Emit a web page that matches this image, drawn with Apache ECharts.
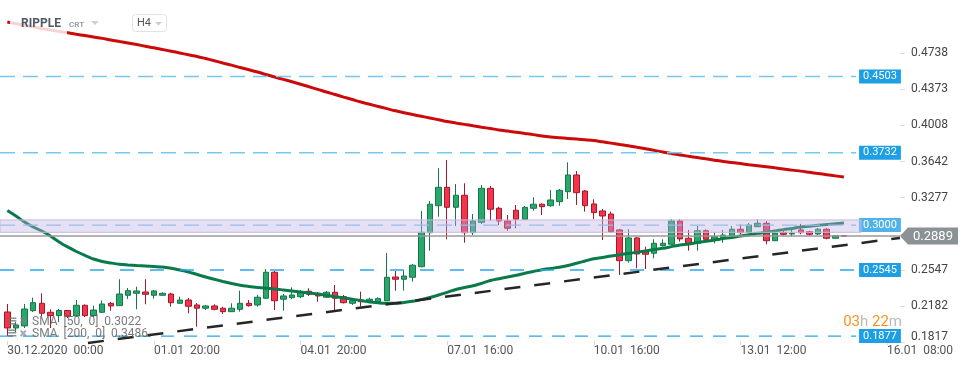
<!DOCTYPE html>
<html><head><meta charset="utf-8">
<script src="https://cdn.jsdelivr.net/npm/echarts@6/dist/echarts.min.js"></script>
<style>html,body{margin:0;padding:0;background:#fff}#c{width:970px;height:368px}</style>
</head><body><div id="c"></div>
<script>
// ---------- data ----------
const xTickLabels = ['30.12.2020  00:00','01.01  20:00','04.01  20:00','07.01  16:00','10.01  16:00','13.01  12:00','16.01  08:00'];
const tickEvery = 17;
const slotCount = 104;
const yTicks = [0.1817,0.2182,0.2547,0.2912,0.3277,0.3642,0.4008,0.4373,0.4738];

const open = [0.2121,0.1959,0.1980,0.2134,0.2209,0.2118,0.2084,0.2136,0.2081,0.2189,
0.2084,0.2118,0.2209,0.2185,0.2290,0.2310,0.2323,0.2290,0.2290,0.2303,
0.2209,0.2242,0.2192,0.2159,0.2182,0.2159,0.2124,0.2148,0.2209,0.2192,
0.2260,0.2523,0.2250,0.2266,0.2276,0.2331,0.2310,0.2270,0.2320,0.2276,
0.2209,0.2242,0.2232,0.2225,0.2235,0.2475,0.2452,0.2472,0.2579,0.2923,
0.3196,0.3382,0.3180,0.3302,0.2923,0.3028,0.3372,0.3170,0.3042,0.3150,
0.3059,0.3170,0.3211,0.3196,0.3237,0.3338,0.3507,0.3345,0.3214,0.3143,
0.3112,0.2951,0.2640,0.2870,0.2731,0.2715,0.2792,0.2806,0.3042,0.2867,
0.2816,0.2943,0.2856,0.2873,0.2890,0.2958,0.2927,0.2984,0.3018,0.2842,
0.2923,0.2910,0.2951,0.2933,0.2910,0.2958,0.2867,0.2893];
const close = [0.1959,0.1990,0.2151,0.2215,0.2108,0.2084,0.2136,0.2078,0.2189,0.2084,
0.2141,0.2202,0.2182,0.2303,0.2337,0.2334,0.2300,0.2334,0.2310,0.2215,
0.2242,0.2179,0.2159,0.2182,0.2148,0.2124,0.2159,0.2209,0.2185,0.2270,
0.2523,0.2235,0.2283,0.2293,0.2327,0.2300,0.2283,0.2320,0.2260,0.2215,
0.2235,0.2225,0.2250,0.2256,0.2472,0.2452,0.2485,0.2594,0.2927,0.3211,
0.3382,0.3180,0.3302,0.2923,0.3042,0.3372,0.3160,0.3042,0.2968,0.3059,
0.3180,0.3211,0.3186,0.3254,0.3352,0.3507,0.3328,0.3196,0.3126,0.3092,
0.2933,0.2640,0.2870,0.2708,0.2705,0.2816,0.2816,0.3042,0.2860,0.2816,
0.2943,0.2856,0.2883,0.2900,0.2958,0.2923,0.3001,0.3018,0.2842,0.2917,
0.2907,0.2917,0.2923,0.2907,0.2958,0.2867,0.2893,0.2889];
const low = [0.1878,0.1919,0.1959,0.2121,0.2074,0.1959,0.2020,0.2060,0.2070,0.2070,
0.2070,0.2111,0.2134,0.2182,0.2253,0.2148,0.2199,0.2256,0.2283,0.2175,
0.2202,0.2108,0.1972,0.2141,0.2138,0.2101,0.2121,0.2124,0.2175,0.2175,
0.2253,0.2141,0.2134,0.2250,0.2260,0.2283,0.2225,0.2263,0.2141,0.2207,
0.2192,0.2175,0.2222,0.2217,0.2232,0.2337,0.2337,0.2428,0.2573,0.2741,
0.3085,0.2856,0.2991,0.2822,0.2900,0.3011,0.3042,0.3001,0.2943,0.2968,
0.3052,0.3146,0.3102,0.3186,0.3196,0.3264,0.3203,0.3136,0.3062,0.2849,
0.2920,0.2495,0.2620,0.2563,0.2556,0.2664,0.2782,0.2799,0.2832,0.2741,
0.2741,0.2839,0.2816,0.2822,0.2880,0.2907,0.2920,0.2981,0.2806,0.2839,
0.2893,0.2883,0.2907,0.2893,0.2900,0.2856,0.2865,0.2880];
const high = [0.2202,0.2020,0.2202,0.2266,0.2310,0.2148,0.2151,0.2141,0.2242,0.2197,
0.2185,0.2239,0.2222,0.2452,0.2364,0.2377,0.2452,0.2344,0.2320,0.2316,
0.2276,0.2263,0.2212,0.2192,0.2199,0.2172,0.2209,0.2337,0.2242,0.2293,
0.2556,0.2536,0.2303,0.2371,0.2344,0.2361,0.2323,0.2334,0.2394,0.2293,
0.2253,0.2327,0.2266,0.2270,0.2718,0.2536,0.2546,0.2607,0.3143,0.3244,
0.3575,0.3659,0.3416,0.3423,0.3112,0.3406,0.3396,0.3186,0.3102,0.3203,
0.3193,0.3281,0.3221,0.3355,0.3365,0.3635,0.3547,0.3355,0.3261,0.3163,
0.3136,0.2961,0.2958,0.2880,0.2782,0.2856,0.2856,0.3062,0.3059,0.2951,
0.2991,0.2958,0.2927,0.2951,0.2991,0.3008,0.3021,0.3059,0.3042,0.2930,
0.2943,0.2951,0.3012,0.2943,0.2971,0.2971,0.2900,0.2895];

const sma50 = [0.3148,0.3092,0.3031,0.2981,0.2940,0.2890,0.2829,0.2779,0.2733,0.2693,
0.2657,0.2632,0.2617,0.2604,0.2597,0.2591,0.2586,0.2581,0.2576,0.2563,
0.2546,0.2526,0.2500,0.2475,0.2452,0.2430,0.2409,0.2391,0.2379,0.2369,
0.2361,0.2354,0.2344,0.2334,0.2323,0.2313,0.2303,0.2290,0.2276,0.2263,
0.2250,0.2237,0.2222,0.2214,0.2209,0.2209,0.2217,0.2229,0.2246,0.2268,
0.2293,0.2320,0.2349,0.2369,0.2386,0.2411,0.2439,0.2458,0.2475,0.2492,
0.2513,0.2531,0.2549,0.2561,0.2573,0.2591,0.2614,0.2637,0.2659,0.2672,
0.2688,0.2700,0.2713,0.2725,0.2738,0.2753,0.2765,0.2782,0.2799,0.2809,
0.2824,0.2836,0.2849,0.2863,0.2875,0.2890,0.2903,0.2917,0.2928,0.2940,
0.2954,0.2966,0.2981,0.2989,0.2998,0.3006,0.3013,0.3022];
const sma200 = [0.5054,0.5038,0.5021,0.5005,0.4989,0.4974,0.4958,0.4945,0.4931,0.4917,
0.4903,0.4889,0.4872,0.4857,0.4842,0.4826,0.4810,0.4794,0.4776,0.4759,
0.4741,0.4723,0.4706,0.4685,0.4663,0.4640,0.4618,0.4594,0.4572,0.4549,
0.4523,0.4498,0.4474,0.4450,0.4425,0.4399,0.4373,0.4346,0.4321,0.4295,
0.4270,0.4245,0.4222,0.4200,0.4178,0.4156,0.4136,0.4118,0.4101,0.4083,
0.4066,0.4048,0.4033,0.4019,0.4004,0.3990,0.3977,0.3963,0.3951,0.3939,
0.3927,0.3915,0.3901,0.3891,0.3884,0.3877,0.3870,0.3863,0.3855,0.3842,
0.3829,0.3815,0.3802,0.3787,0.3772,0.3756,0.3739,0.3724,0.3709,0.3696,
0.3683,0.3670,0.3657,0.3644,0.3633,0.3622,0.3611,0.3601,0.3590,0.3579,
0.3568,0.3556,0.3546,0.3534,0.3522,0.3510,0.3498,0.3486];

const levels = [0.4503, 0.3732, 0.3000, 0.2545, 0.1877];
const bandTop = 0.3052, bandBottom = 0.2927;
const trendX = [9.35, 103.46];
const trendY = [0.1808, 0.2870];
const legendTexts = ['SMA  [50,  0]  0.3022', 'SMA  [200,  0]  0.3486'];

// ---------- chart ----------
const FONT = 'Roboto, "Noto Sans", sans-serif';
const Y_MIN = 0.1787, Y_MAX = 0.5277;
const X_MIN = -0.846, X_MAX = 103.46;
const LEVEL_END = 98.37, BAND_END = 98.94;
const levelColors = ['#74c8f2', '#74c8f2', '#86c6ee', '#27a8e8', '#27a8e8'];
const levelDash = [[15, 8], [15, 8], [15, 8], [14, 16], [13, 10]];
const boxColors = ['#1c9fe4', '#1c9fe4', '#4fb3ea', '#1c9fe4', '#1c9fe4'];
const lastPrice = close[close.length - 1];

const categories = Array.from({length: slotCount}, (_, i) => String(i));
const candleData = open.map((o, i) => [o, close[i], low[i], high[i]]);
const showTick = (idx) => idx % tickEvery === 0;

const chart = echarts.init(document.getElementById('c'), null, {renderer: 'canvas'});

const series = [
  {
    type: 'candlestick', xAxisIndex: 0, yAxisIndex: 0, data: candleData, barWidth: 6, z: 2,
    itemStyle: {color: '#27a96c', color0: '#f2354b', borderColor: '#17774a', borderColor0: '#a3182b', borderWidth: 1}
  },
  {
    type: 'line', xAxisIndex: 0, yAxisIndex: 0, data: sma200, symbol: 'none', smooth: 0.3, z: 3,
    lineStyle: {color: '#cc0a0a', width: 3}
  },
  {
    type: 'line', xAxisIndex: 0, yAxisIndex: 0, data: sma50, symbol: 'none', smooth: 0.3, z: 3,
    lineStyle: {color: '#0a7a4a', width: 3}
  }
];

levels.forEach((v, i) => {
  series.push({
    type: 'line', xAxisIndex: 1, yAxisIndex: 1, symbol: 'none', silent: true, z: 4,
    data: [[X_MIN, v], [LEVEL_END, v]],
    lineStyle: {color: levelColors[i], width: 1.4, type: levelDash[i]},
    endLabel: {
      show: true, formatter: () => v.toFixed(4), color: '#fff', backgroundColor: boxColors[i],
      padding: [2, 4, 1, 4], fontSize: 11, fontFamily: FONT, distance: 3
    }
  });
});

series.push({
  type: 'line', xAxisIndex: 1, yAxisIndex: 1, symbol: 'none', silent: true, z: 4,
  data: [[X_MIN, lastPrice], [X_MAX, lastPrice]],
  lineStyle: {color: '#999', width: 1.5}
});

series.push({
  type: 'custom', xAxisIndex: 1, yAxisIndex: 1, silent: true, z: 10,
  data: [[X_MIN, bandTop, BAND_END, bandBottom]],
  renderItem: (params, api) => {
    const p1 = api.coord([api.value(0), api.value(1)]);
    const p2 = api.coord([api.value(2), api.value(3)]);
    return {
      type: 'rect',
      shape: {x: p1[0], y: p1[1], width: p2[0] - p1[0], height: p2[1] - p1[1]},
      style: {fill: 'rgba(188,174,230,0.38)', stroke: '#c4b8e2', lineWidth: 1}
    };
  }
});

series.push({
  type: 'line', xAxisIndex: 1, yAxisIndex: 1, symbol: 'none', silent: true, z: 11,
  data: [[trendX[0], trendY[0]], [trendX[1], trendY[1]]],
  lineStyle: {color: '#262626', width: 2.5, type: [16, 14]}
});

chart.setOption({
  animation: false,
  backgroundColor: '#fff',
  grid: [
    {left: 3, top: 0, width: 897, height: 345},
    {left: 0, top: 0, width: 900, height: 345}
  ],
  xAxis: [
    {
      type: 'category', gridIndex: 0, data: categories, boundaryGap: true,
      axisLine: {show: false},
      axisTick: {show: true, inside: true, length: 4, alignWithLabel: true, interval: showTick, lineStyle: {color: '#d8d8d8'}},
      axisLabel: {
        interval: showTick, align: 'left', margin: 0, color: '#555', fontSize: 12, fontFamily: FONT,
        formatter: (val, idx) => xTickLabels[idx / tickEvery] || ''
      },
      splitLine: {show: false}
    },
    {type: 'value', gridIndex: 1, min: X_MIN, max: X_MAX, show: false}
  ],
  yAxis: [
    {
      type: 'value', gridIndex: 0, position: 'right', min: Y_MIN, max: Y_MAX,
      axisLine: {show: false}, splitLine: {show: false},
      axisTick: {show: true, length: 5, customValues: yTicks, lineStyle: {color: '#dddddd'}},
      axisLabel: {
        customValues: yTicks, margin: 11, color: '#444', fontSize: 12, fontFamily: FONT,
        formatter: (v) => v < 0.19 ? '{low|' + v.toFixed(4) + '}' : v.toFixed(4),
        rich: {low: {color: '#444', fontSize: 12, fontFamily: FONT, padding: [0, 0, 10, 0]}}
      }
    },
    {type: 'value', gridIndex: 1, min: Y_MIN, max: Y_MAX, show: false}
  ],
  series: series
});

const tagY = chart.convertToPixel({xAxisIndex: 1, yAxisIndex: 1}, [X_MAX, lastPrice])[1];

chart.setOption({
  graphic: [
    {type: 'rect', z: 100, shape: {x: 10, y: 12, width: 57, height: 24}, style: {fill: 'rgba(255,255,255,0.82)'}},
    {type: 'text', z: 101, x: 21, y: 24, style: {text: 'RIPPLE', font: 'bold 12px ' + FONT, fill: '#4e5964', verticalAlign: 'middle'}},
    {type: 'text', z: 101, x: 69, y: 24.5, style: {text: 'CRT', font: 'bold 8px ' + FONT, fill: '#9aa1a8', verticalAlign: 'middle'}},
    {type: 'polygon', z: 101, shape: {points: [[91, 21], [99, 21], [95, 25]]}, style: {fill: '#cfcfcf'}},
    {type: 'rect', z: 101, shape: {x: 132.5, y: 14.5, width: 34, height: 17, r: 3}, style: {fill: '#fff', stroke: '#e2e2e2', lineWidth: 1}},
    {type: 'text', z: 102, x: 137, y: 23.5, style: {text: 'H4', font: '11px ' + FONT, fill: '#555', verticalAlign: 'middle'}},
    {type: 'polygon', z: 102, shape: {points: [[155, 22], [162, 22], [158.5, 25.5]]}, style: {fill: '#cccccc'}},
    {type: 'text', z: 101, x: 7, y: 321.5, style: {text: '≡', font: 'bold 13px "DejaVu Sans"', fill: 'rgba(110,110,110,0.75)', verticalAlign: 'middle'}},
    {type: 'text', z: 101, x: 19, y: 321.5, style: {text: '✖', font: '10px "DejaVu Sans"', fill: 'rgba(130,130,130,0.65)', verticalAlign: 'middle'}},
    {type: 'text', z: 101, x: 7, y: 334, style: {text: '≡', font: 'bold 13px "DejaVu Sans"', fill: 'rgba(110,110,110,0.75)', verticalAlign: 'middle'}},
    {type: 'text', z: 101, x: 19, y: 334, style: {text: '✖', font: '10px "DejaVu Sans"', fill: 'rgba(130,130,130,0.65)', verticalAlign: 'middle'}},
    {type: 'text', z: 101, x: 32, y: 321.5, style: {text: legendTexts[0], font: '12px ' + FONT, fill: 'rgba(100,100,100,0.85)', verticalAlign: 'middle'}},
    {type: 'text', z: 101, x: 32, y: 334, style: {text: legendTexts[1], font: '12px ' + FONT, fill: 'rgba(100,100,100,0.85)', verticalAlign: 'middle'}},
    {type: 'text', z: 101, x: 902, y: 322.5, style: {
      text: '{o|03}{g|h }{o|22}{g|m}', align: 'right', verticalAlign: 'middle',
      rich: {
        o: {fill: '#f7941d', color: '#f7941d', fontSize: 15, fontFamily: FONT},
        g: {fill: '#bbbbbb', color: '#bbbbbb', fontSize: 15, fontFamily: FONT}
      }
    }},
    {type: 'polygon', z: 110, shape: {points: [[900, tagY], [908, tagY - 8.5], [958, tagY - 8.5], [958, tagY + 8.5], [908, tagY + 8.5]]}, style: {fill: '#8a9295'}},
    {type: 'text', z: 111, x: 933, y: tagY + 0.5, style: {text: lastPrice.toFixed(4), font: '13px ' + FONT, fill: '#fff', align: 'center', verticalAlign: 'middle'}}
  ]
});
</script>
</body></html>
